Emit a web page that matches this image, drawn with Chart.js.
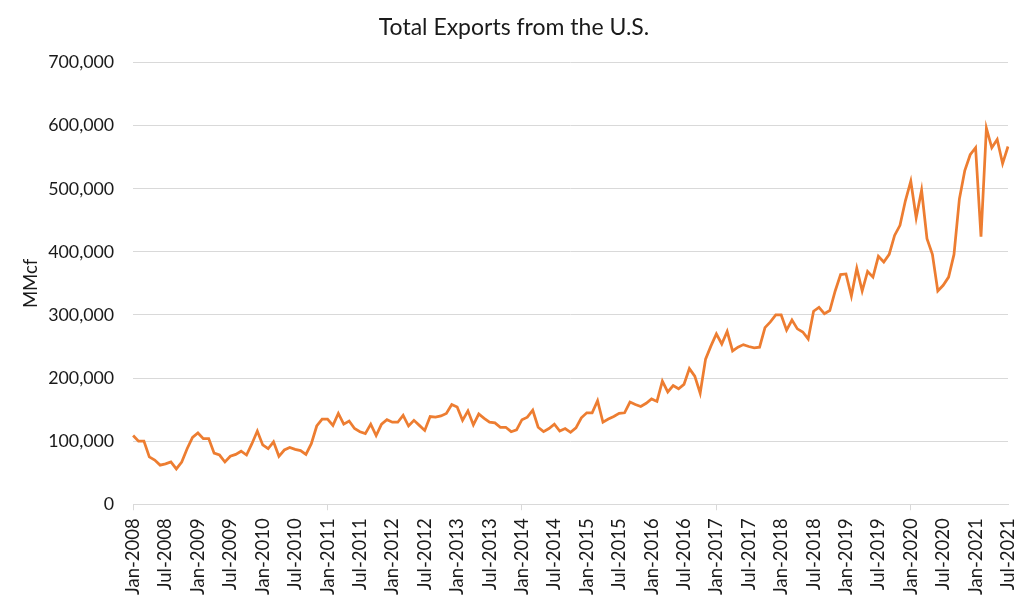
<!DOCTYPE html>
<html>
<head>
<meta charset="utf-8">
<title>Total Exports from the U.S.</title>
<script src="https://cdn.jsdelivr.net/npm/chart.js@4.4.1/dist/chart.umd.min.js"></script>
<style>
  html, body { margin: 0; padding: 0; background: #fff; }
  #wrap { width: 1024px; height: 603px; }
</style>
</head>
<body>
<div id="wrap"><canvas id="chart"></canvas></div>
<script>
// Monthly U.S. natural gas exports, MMcf, Jan-2008 .. Jul-2021
const monthNames = ['Jan', 'Feb', 'Mar', 'Apr', 'May', 'Jun', 'Jul', 'Aug', 'Sep', 'Oct', 'Nov', 'Dec'];
const years = [2008, 2009, 2010, 2011, 2012, 2013, 2014, 2015, 2016, 2017, 2018, 2019, 2020, 2021];

const exportsMMcf = [
  // 2008
  109000, 100000, 100000, 75000, 70000, 62000, 64000, 67000, 56000, 67000, 88000, 106000,
  // 2009
  113000, 104000, 104000, 81000, 78000, 67000, 76000, 79000, 84000, 78000, 96000, 116000,
  // 2010
  94000, 88000, 99000, 76000, 86000, 90000, 87000, 85000, 79000, 96000, 124000, 135000,
  // 2011
  135000, 125000, 144000, 127000, 132000, 120000, 115000, 112000, 127000, 109000, 127000, 134000,
  // 2012
  130000, 130000, 141000, 124000, 133000, 125000, 117000, 139000, 138000, 140000, 144000, 158000,
  // 2013
  154000, 133000, 148000, 126000, 143000, 136000, 130000, 129000, 122000, 122000, 115000, 118000,
  // 2014
  134000, 138000, 149000, 122000, 115000, 120000, 127000, 116000, 120000, 114000, 121000, 137000,
  // 2015
  145000, 145000, 164000, 130000, 135000, 139000, 144000, 145000, 162000, 158000, 155000, 160000,
  // 2016
  167000, 163000, 195000, 178000, 188000, 183000, 190000, 215000, 203000, 176000, 230000, 251000,
  // 2017
  270000, 254000, 274000, 243000, 249000, 253000, 250000, 248000, 249000, 280000, 289000, 300000,
  // 2018
  300000, 276000, 292000, 278000, 273000, 262000, 306000, 312000, 302000, 307000, 338000, 364000,
  // 2019
  365000, 330000, 374000, 338000, 369000, 360000, 393000, 384000, 396000, 426000, 442000, 481000,
  // 2020
  512000, 454000, 498000, 421000, 396000, 338000, 347000, 360000, 396000, 484000, 529000, 554000,
  // 2021
  565000, 424000, 596000, 565000, 578000, 540000, 567000
];

const yTicks = [0, 100000, 200000, 300000, 400000, 500000, 600000, 700000];

// category labels like "Jan-2008"
const categories = [];
years.forEach(y => monthNames.forEach(m => categories.push(m + '-' + y)));
categories.length = exportsMMcf.length;

const LABEL_EVERY = 6;
const GRID = '#d9d9d9';
const TEXT = '#1a1a1a';
const FONT = 'Lato, "Open Sans", sans-serif';
const Y_PAD = 19;

new Chart(document.getElementById('chart'), {
  type: 'line',
  data: {
    labels: categories,
    datasets: [{
      label: 'Total Exports',
      data: exportsMMcf,
      borderColor: '#ED7D31',
      borderWidth: 2.75,
      pointRadius: 0,
      tension: 0,
      fill: false,
    }],
  },
  options: {
    responsive: true,
    maintainAspectRatio: false,
    animation: false,
    layout: { padding: { left: 20, right: 16, top: 4, bottom: 0 } },
    plugins: {
      legend: { display: false },
      tooltip: { enabled: false },
      title: {
        display: true,
        text: 'Total Exports from the U.S.',
        color: TEXT,
        font: { family: FONT, size: 23, weight: 'normal' },
        padding: { top: 10, bottom: 21 },
      },
    },
    scales: {
      x: {
        type: 'category',
        offset: false,
        border: { display: true, color: GRID, width: 1 },
        grid: {
          drawOnChartArea: false,
          drawTicks: true,
          tickLength: 6,
          color: (ctx) => (ctx.index % LABEL_EVERY === 0 ? GRID : 'rgba(0,0,0,0)'),
        },
        ticks: {
          autoSkip: false,
          minRotation: 90,
          maxRotation: 90,
          padding: 8,
          color: TEXT,
          font: { family: FONT, size: 18.5 },
          callback: function (val, idx) {
            return idx % LABEL_EVERY === 0 ? this.getLabelForValue(val) : null;
          },
        },
        // rotated end labels fit in the margins, so don't let them push the plot in
        afterFit: (axis) => {
          axis.paddingLeft = 0;
          axis.paddingRight = 0;
        },
      },
      y: {
        min: yTicks[0],
        max: yTicks[yTicks.length - 1],
        border: { display: false },
        grid: { color: GRID, drawTicks: false },
        afterBuildTicks: (axis) => { axis.ticks = yTicks.map(v => ({ value: v })); },
        // Chart.js reserves the tick padding twice; give the outer copy back
        afterFit: (axis) => { axis.width -= Y_PAD; },
        ticks: {
          padding: Y_PAD,
          color: TEXT,
          font: { family: FONT, size: 17.8 },
          callback: (v) => v.toLocaleString('en-US'),
        },
        title: {
          display: true,
          text: 'MMcf',
          color: TEXT,
          font: { family: FONT, size: 18.5 },
          padding: { top: 0, bottom: 6 },
        },
      },
    },
  },
});
</script>
</body>
</html>
